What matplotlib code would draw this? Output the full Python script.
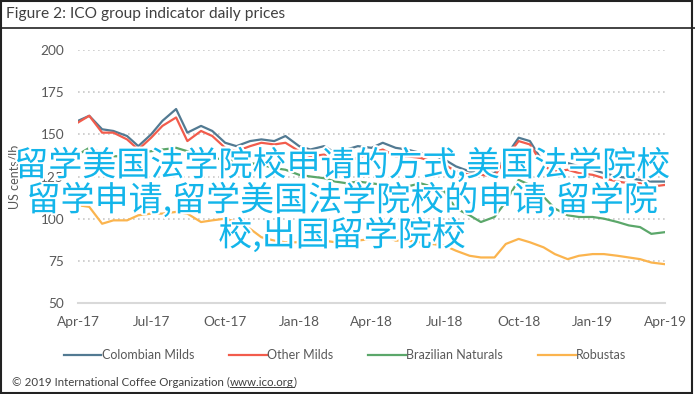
import numpy as np
import pandas as pd
import matplotlib
matplotlib.use('Agg')
import matplotlib.pyplot as plt
import matplotlib.dates as mdates
import matplotlib.patheffects as pe
from matplotlib.patches import Rectangle
from matplotlib.lines import Line2D

# semi-monthly readings, Apr-17 .. Apr-19
dates = pd.date_range('2017-04-01', periods=49, freq='SMS')

colombian = [158, 161, 153, 152, 149, 143, 150, 158, 165, 151, 155, 152, 145, 143, 146, 147,
             146, 149, 143, 141, 143, 139, 141, 143, 142, 145, 142, 141, 139, 138, 135, 131,
             128, 128, 127, 137, 148, 146, 133, 131, 133, 131, 129, 127, 125, 124, 123, 122, 122]
other_milds = [157, 161, 151, 151, 147, 141, 148, 155, 160, 146, 152, 149, 142, 140, 143, 145,
               144, 145, 140, 137, 138, 135, 134, 136, 139, 141, 137, 137, 136, 134, 132, 128,
               126, 126, 125, 136, 146, 144, 131, 128, 129, 127, 126, 124, 122, 121, 121, 119, 120]
brazilian = [138, 142, 139, 137, 137, 139, 140, 141, 142, 140, 138, 136, 135, 134, 133, 132,
             130, 129, 126, 125, 124, 122, 121, 122, 121, 120, 119, 119, 121, 119, 116, 106,
             102, 98, 101, 110, 123, 120, 113, 106, 102, 101, 101, 100, 98, 96, 95, 91, 92]
robustas = [108, 107, 97, 99, 99, 102, 103, 103, 104, 103, 98, 99, 100, 98, 94, 89,
            87, 86, 86, 86, 87, 86, 87, 87, 88, 90, 87, 87, 86, 85, 84, 81,
            78, 77, 77, 85, 88, 86, 83, 79, 76, 78, 79, 79, 78, 77, 76, 74, 73]

series = ['Colombian Milds', 'Other Milds', 'Brazilian Naturals', 'Robustas']
colors = ['#527a92', '#f25c4c', '#5ba76a', '#fbb44e']
yticks = [50, 75, 100, 125, 150, 175, 200]

plt.rcParams['font.family'] = ['Lato', 'DejaVu Sans']
txt = '#595959'

W, H = 695, 394
fig = plt.figure(figsize=(W / 100, H / 100), dpi=100)
ax = fig.add_axes([78 / W, 1 - 303 / H, (665 - 78) / W, (303 - 50) / H])

for vals, name, c in zip([colombian, other_milds, brazilian, robustas], series, colors):
    ax.plot(dates, vals, color=c, lw=1.6, label=name)

ax.set_ylim(50, 200)
ax.set_xlim(pd.Timestamp('2017-04-01'), pd.Timestamp('2019-04-01'))
ax.set_yticks(yticks)
ax.xaxis.set_major_locator(mdates.MonthLocator(bymonth=[1, 4, 7, 10]))
ax.xaxis.set_major_formatter(mdates.DateFormatter('%b-%y'))
ax.tick_params(length=0, labelsize=9.8, colors=txt, pad=10)
ax.tick_params(axis='x', pad=9)
for y in yticks[1:]:
    ax.axhline(y, color='#c8c8c8', lw=1.2, ls=(0, (1, 2)), zorder=0)
for s in ['top', 'right', 'left']:
    ax.spines[s].set_visible(False)
ax.spines['bottom'].set_color('#d9d9d9')
ax.spines['bottom'].set_linewidth(1.5)
ax.set_ylabel('US cents/lb', fontsize=9, color=txt, labelpad=14)

leg = fig.legend(loc='center', bbox_to_anchor=(345 / W, 1 - 355 / H), ncol=4, frameon=False,
                 fontsize=9, handlelength=3.0, handletextpad=0.05, columnspacing=2.8)
for t in leg.get_texts():
    t.set_color(txt)

fig.text(6 / W, 1 - 14 / H, 'Figure 2: ICO group indicator daily prices', fontsize=11.2,
         color='#404040', va='center', ha='left')

# footer
fs = 8.3
f1 = fig.text(12 / W, 1 - 382 / H, '\u00a9 2019 International Coffee Organization (', fontsize=fs,
              color='#404040', va='center', ha='left')
fig.canvas.draw()
r = fig.canvas.get_renderer()
bb = f1.get_window_extent(r)
f2 = fig.text(bb.x1 / W, 1 - 382 / H, 'www.ico.org', fontsize=fs, color='#404040',
              va='center', ha='left')
bb2 = f2.get_window_extent(r)
fig.text(bb2.x1 / W, 1 - 382 / H, ')', fontsize=fs, color='#404040', va='center', ha='left')
fig.add_artist(Line2D([bb2.x0 / W, bb2.x1 / W], [(bb2.y0 + 1) / H] * 2, color='#404040', lw=0.7))

# frame
fig.add_artist(Rectangle((0.002, 0.003), 0.994, 0.994, transform=fig.transFigure, fill=False,
                         edgecolor='#222222', lw=1.5))
fig.add_artist(Line2D([0, 1], [1 - 28 / H] * 2, color='#222222', lw=1.2))

# watermark
wm = ['留学美国法学院校申请的方式,美国法学院校', '留学申请,留学美国法学院校的申请,留学院', '校,出国留学院校']
for i, line in enumerate(wm):
    fig.text(342 / W, 1 - (166 + 35 * i) / H, line, fontsize=24.5, color='#13b5ea', ha='center',
             va='center', family=['Noto Sans CJK SC', 'DejaVu Sans'],
             path_effects=[pe.withStroke(linewidth=3, foreground='white')])

fig.savefig('out.png', dpi=100)
